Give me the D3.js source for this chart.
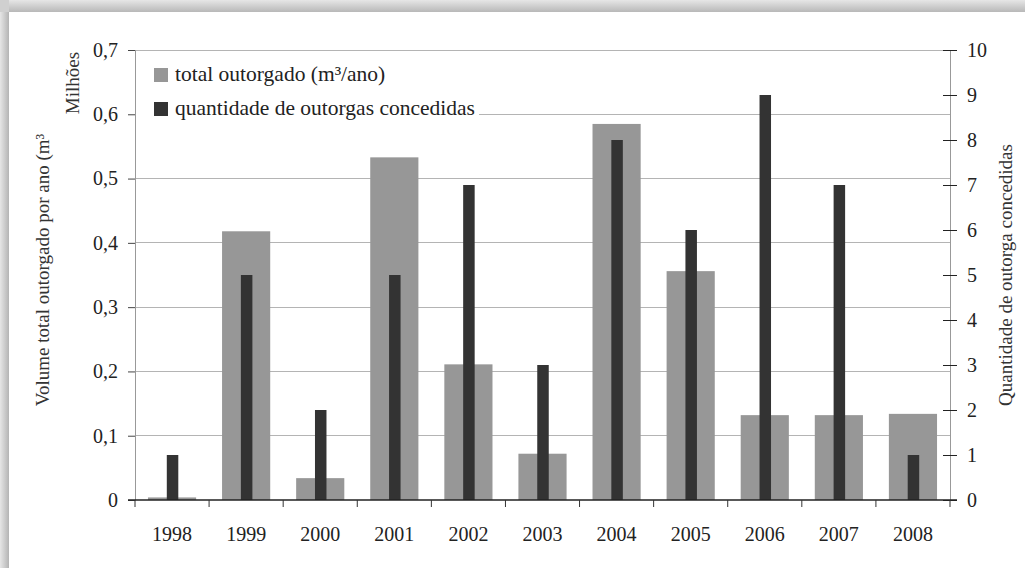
<!DOCTYPE html>
<html><head><meta charset="utf-8">
<script src="https://cdn.jsdelivr.net/npm/d3@7"></script>
<style>html,body{margin:0;padding:0;background:#fff;}svg{display:block;}
svg text{font-family:"Liberation Serif","Times New Roman",Times,"DejaVu Serif",serif;}</style>
</head><body>
<svg id="chart" width="1025" height="568"></svg>
<script>
const years = ["1998","1999","2000","2001","2002","2003","2004","2005","2006","2007","2008"];
const volumeMillions = [0.004,0.418,0.034,0.533,0.211,0.072,0.585,0.356,0.132,0.132,0.134];
const outorgasCount = [1,5,2,5,7,3,8,6,9,7,1];
const leftTicks = [0,0.1,0.2,0.3,0.4,0.5,0.6,0.7];
const rightTicks = [0,1,2,3,4,5,6,7,8,9,10];
const legendLabels = ["total outorgado (m³/ano)","quantidade de outorgas concedidas"];

const svg = d3.select("#chart");
const W = 1025, H = 568;
const m = {left:135, right:75, top:50, bottom:68};
const x0 = m.left, x1 = W - m.right, yTop = m.top, yBot = H - m.bottom;
const FONT = "Liberation Serif, Times New Roman, Times, DejaVu Serif, serif";

// frame / shadow
const defs = svg.append("defs");
const gTop = defs.append("linearGradient").attr("id","gTop").attr("x1",0).attr("y1",0).attr("x2",0).attr("y2",1);
gTop.append("stop").attr("offset","0%").attr("stop-color","#e6e6e6");
gTop.append("stop").attr("offset","100%").attr("stop-color","#b8b8b8");
const gLeft = defs.append("linearGradient").attr("id","gLeft").attr("x1",0).attr("y1",0).attr("x2",1).attr("y2",0);
gLeft.append("stop").attr("offset","0%").attr("stop-color","#e6e6e6");
gLeft.append("stop").attr("offset","100%").attr("stop-color","#b4b4b4");
svg.append("rect").attr("x",0).attr("y",0).attr("width",W).attr("height",H).attr("fill","#fff");
svg.append("rect").attr("x",0).attr("y",0).attr("width",W).attr("height",12).attr("fill","url(#gTop)");
svg.append("rect").attr("x",0).attr("y",0).attr("width",9).attr("height",H).attr("fill","url(#gLeft)");
svg.append("rect").attr("x",0).attr("y",0).attr("width",9).attr("height",12).attr("fill","#d0d0d0");

const x = d3.scaleBand().domain(years).range([x0,x1]);
const yL = d3.scaleLinear().domain([0,0.7]).range([yBot,yTop]);
const yR = d3.scaleLinear().domain([0,10]).range([yBot,yTop]);

// gridlines
svg.append("g").selectAll("line").data(leftTicks.filter(d=>d>0)).join("line")
  .attr("x1",x0).attr("x2",x1).attr("y1",d=>yL(d)).attr("y2",d=>yL(d))
  .attr("stroke","#b4b4b4").attr("stroke-width",1).attr("shape-rendering","crispEdges");

// gray bars
const gw = x.bandwidth()*0.65;
svg.append("g").selectAll("rect").data(years).join("rect")
  .attr("x",d=>x(d)+x.bandwidth()/2-gw/2).attr("width",gw)
  .attr("y",(d,i)=>yL(volumeMillions[i])).attr("height",(d,i)=>yBot-yL(volumeMillions[i]))
  .attr("fill","#979797");
// dark bars
const dw = 11.5;
svg.append("g").selectAll("rect").data(years).join("rect")
  .attr("x",d=>x(d)+x.bandwidth()/2-dw/2+0.5).attr("width",dw)
  .attr("y",(d,i)=>yR(outorgasCount[i])).attr("height",(d,i)=>yBot-yR(outorgasCount[i]))
  .attr("fill","#333333");

// left axis
const axL = svg.append("g").attr("transform",`translate(${x0},0)`)
  .call(d3.axisLeft(yL).tickValues(leftTicks).tickSize(7).tickPadding(10)
    .tickFormat(d=> d===0 ? "0" : d3.format(".1f")(d).replace(".",",")));
axL.select(".domain").attr("stroke","#999");
axL.selectAll(".tick line").attr("stroke","#444");
axL.selectAll("text").attr("font-family",FONT).attr("font-size",20).attr("fill","#222");

// right axis
const axR = svg.append("g").attr("transform",`translate(${x1},0)`)
  .call(d3.axisRight(yR).tickValues(rightTicks).tickSize(7).tickPadding(10));
axR.select(".domain").attr("stroke","#999");
axR.selectAll(".tick line").attr("x1",-7).attr("stroke","#222");
axR.selectAll("text").attr("font-family",FONT).attr("font-size",20).attr("fill","#222");

// bottom axis
const axB = svg.append("g").attr("transform",`translate(0,${yBot})`)
  .call(d3.axisBottom(x).tickSize(0).tickPadding(27));
axB.select(".domain").attr("stroke","#222").attr("stroke-width",1.5).attr("d",`M${x0-7},0H${x1+7}`);
axB.selectAll("text").attr("font-family",FONT).attr("font-size",20).attr("fill","#222");
svg.append("g").selectAll("line").data(years.slice(1).concat(["end"])).join("line")
  .attr("x1",d=> d==="end"? x1 : x(d)).attr("x2",d=> d==="end"? x1 : x(d))
  .attr("y1",yBot).attr("y2",yBot+7).attr("stroke","#333");
svg.append("line").attr("x1",x0).attr("x2",x0).attr("y1",yBot).attr("y2",yBot+7).attr("stroke","#333");

// legend
svg.append("rect").attr("x",x0+1).attr("y",58).attr("width",343).attr("height",64).attr("fill","#fff");
const legColors = ["#979797","#333333"];
legendLabels.forEach((t,i)=>{
  const yy = 68 + i*34;
  svg.append("rect").attr("x",154).attr("y",yy).attr("width",14).attr("height",14).attr("fill",legColors[i]);
  svg.append("text").attr("x",175).attr("y",yy+13).text(t)
    .attr("font-family",FONT).attr("font-size",21.5).attr("fill","#222");
});

// axis titles
svg.append("text").attr("transform",`translate(49,270) rotate(-90)`).attr("text-anchor","middle")
  .text("Volume total outorgado por ano (m³").attr("font-family",FONT).attr("font-size",19).attr("fill","#333");
svg.append("text").attr("transform",`translate(79,83) rotate(-90)`).attr("text-anchor","middle")
  .text("Milhões").attr("font-family",FONT).attr("font-size",19).attr("fill","#333");
svg.append("text").attr("transform",`translate(1012,275) rotate(-90)`).attr("text-anchor","middle")
  .text("Quantidade de outorga concedidas").attr("font-family",FONT).attr("font-size",19).attr("fill","#333");
</script>
</body></html>
